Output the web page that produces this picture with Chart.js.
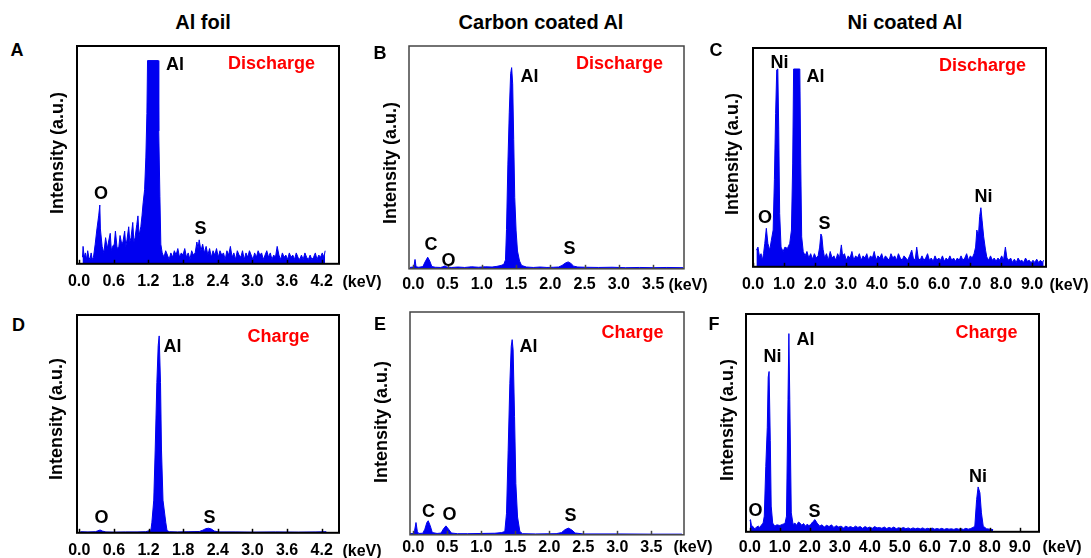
<!DOCTYPE html>
<html>
<head>
<meta charset="utf-8">
<script src="https://cdn.jsdelivr.net/npm/chart.js@4/dist/chart.umd.min.js"></script>
<style>
  html, body { margin: 0; padding: 0; background: #fff; }
  #fig { position: relative; width: 1091px; height: 558px; overflow: hidden; }
  #fig canvas { position: absolute; }
  .t {
    position: absolute;
    font-family: Arial, 'Liberation Sans', Helvetica, sans-serif;
    font-weight: bold;
    line-height: 1;
    white-space: nowrap;
    transform: translate(-50%, -50%);
  }
</style>
</head>
<body>
<div id="fig"></div>
<script>
(function () {
  'use strict';

  // EDS spectra, [energy keV, intensity % of frame height]
  var spectrumA = [
    [0.06, 3], [0.07, 8], [0.09, 3], [0.11, 5], [0.13, 2], [0.15, 6], [0.17, 3], [0.19, 2],
    [0.21, 5], [0.23, 2], [0.25, 3], [0.28, 9], [0.31, 16], [0.34, 22], [0.36, 27], [0.37, 16],
    [0.40, 8], [0.43, 5], [0.46, 12], [0.49, 7], [0.51, 10], [0.54, 14], [0.56, 6], [0.58, 8],
    [0.61, 9], [0.63, 15], [0.66, 7], [0.69, 8], [0.71, 13], [0.74, 9], [0.76, 10], [0.79, 15],
    [0.81, 8], [0.83, 11], [0.86, 17], [0.88, 10], [0.90, 12], [0.93, 19], [0.95, 10], [0.97, 12],
    [1.00, 18], [1.02, 22], [1.04, 13], [1.07, 17], [1.09, 22], [1.11, 28], [1.135, 34], [1.157, 49],
    [1.175, 69], [1.186, 93.3], [1.37, 93.3], [1.38, 61], [1.40, 31], [1.416, 9], [1.44, 5],
    [1.47, 3], [1.50, 6], [1.53, 4], [1.56, 2], [1.59, 5], [1.62, 3], [1.65, 6], [1.68, 4],
    [1.71, 7], [1.74, 3], [1.77, 5], [1.80, 4], [1.83, 7], [1.86, 3], [1.89, 5], [1.92, 2],
    [1.95, 6], [1.98, 4], [2.01, 5], [2.04, 10], [2.06, 7], [2.08, 11], [2.11, 6], [2.14, 9],
    [2.17, 5], [2.20, 8], [2.23, 4], [2.26, 7], [2.29, 3], [2.32, 6], [2.35, 4], [2.38, 7],
    [2.41, 3], [2.44, 6], [2.47, 4], [2.50, 5], [2.53, 2], [2.56, 6], [2.59, 4], [2.62, 8],
    [2.65, 3], [2.68, 5], [2.71, 2], [2.74, 6], [2.77, 4], [2.80, 3], [2.83, 6], [2.86, 2],
    [2.89, 5], [2.92, 3], [2.95, 6], [2.98, 4], [3.01, 2], [3.04, 5], [3.07, 3], [3.10, 6],
    [3.13, 4], [3.16, 5], [3.19, 2], [3.22, 4], [3.25, 6], [3.28, 3], [3.31, 5], [3.34, 2],
    [3.37, 4], [3.40, 3], [3.43, 8], [3.46, 4], [3.49, 2], [3.52, 5], [3.55, 3], [3.58, 4],
    [3.61, 2], [3.64, 5], [3.67, 3], [3.70, 4], [3.73, 2], [3.76, 5], [3.79, 3], [3.82, 2],
    [3.85, 4], [3.88, 2], [3.91, 5], [3.94, 3], [3.97, 2], [4.00, 4], [4.03, 2], [4.06, 3],
    [4.09, 5], [4.12, 2], [4.15, 4], [4.18, 3], [4.21, 5], [4.24, 3], [4.26, 6]
  ];

  var spectrumB = [
    [-0.05, 0.6], [-0.01, 0.8], [0.01, 1.2], [0.025, 4.2], [0.04, 0.9], [0.08, 0.7], [0.14, 1],
    [0.17, 3], [0.21, 5.2], [0.24, 3.5], [0.27, 1], [0.32, 0.7], [0.40, 0.6], [0.43, 0.9],
    [0.46, 1.3], [0.49, 0.8], [0.56, 0.6], [0.65, 0.8], [0.75, 0.6], [0.85, 0.9], [0.95, 0.7],
    [1.05, 0.9], [1.15, 0.8], [1.22, 1.1], [1.28, 1.5], [1.32, 2.0], [1.345, 4], [1.36, 17.6],
    [1.38, 47], [1.40, 70], [1.42, 87.6], [1.435, 90.3], [1.45, 83], [1.465, 58], [1.48, 32],
    [1.50, 17], [1.52, 8], [1.55, 3.5], [1.58, 1.5], [1.65, 0.8], [1.75, 0.6], [1.85, 0.8],
    [1.95, 0.6], [2.05, 0.7], [2.12, 0.8], [2.17, 1.5], [2.22, 2.6], [2.26, 3.1], [2.30, 2.4],
    [2.34, 1.2], [2.40, 0.8], [2.50, 0.7], [2.70, 0.6], [2.90, 0.7], [3.10, 0.5], [3.30, 0.6],
    [3.50, 0.5], [3.70, 0.6], [3.94, 0.5]
  ];

  var spectrumC = [
    [0.11, 7.6], [0.16, 9], [0.21, 4.6], [0.26, 6], [0.30, 3], [0.34, 6], [0.38, 10.7], [0.43, 17.6],
    [0.48, 10.7], [0.54, 7.6], [0.59, 12], [0.65, 16.8], [0.69, 40], [0.73, 70], [0.765, 90],
    [0.80, 90.4], [0.83, 62.6], [0.86, 24.4], [0.905, 9], [0.97, 7], [1.03, 9], [1.11, 8.4],
    [1.185, 10.7], [1.24, 16.8], [1.28, 47], [1.31, 90.4], [1.51, 90.4], [1.54, 47], [1.57, 13.7],
    [1.62, 7], [1.68, 5], [1.74, 7], [1.80, 4], [1.86, 6], [1.92, 3.5], [1.98, 6], [2.04, 4],
    [2.10, 5], [2.15, 9], [2.19, 15], [2.22, 14], [2.26, 8], [2.31, 4], [2.37, 6], [2.43, 3],
    [2.49, 7], [2.55, 4], [2.61, 5], [2.67, 3], [2.73, 6], [2.79, 4], [2.85, 10], [2.89, 5],
    [2.95, 6], [3.01, 3], [3.07, 5], [3.13, 4], [3.19, 7], [3.25, 3], [3.31, 5], [3.37, 4],
    [3.43, 6], [3.49, 3], [3.55, 5], [3.61, 4], [3.67, 6], [3.73, 3], [3.79, 5], [3.85, 4],
    [3.91, 7], [3.97, 3], [4.03, 5], [4.09, 4], [4.15, 6], [4.21, 3], [4.27, 5], [4.33, 4],
    [4.39, 3], [4.45, 6], [4.51, 4], [4.57, 5], [4.63, 3], [4.69, 6], [4.75, 4], [4.81, 3],
    [4.87, 5], [4.93, 4], [4.99, 3], [5.05, 5], [5.12, 7.6], [5.17, 4], [5.23, 3], [5.28, 9],
    [5.33, 4], [5.39, 3], [5.45, 5], [5.51, 3], [5.57, 4], [5.63, 6], [5.69, 3], [5.75, 4],
    [5.81, 2.5], [5.87, 5], [5.93, 3], [5.99, 4], [6.05, 3], [6.11, 5], [6.17, 2.5], [6.23, 4],
    [6.29, 3], [6.35, 5], [6.41, 3], [6.47, 4], [6.53, 2.5], [6.59, 4], [6.65, 3], [6.71, 5],
    [6.77, 3], [6.83, 4], [6.89, 6], [6.95, 3], [7.01, 5], [7.07, 4], [7.13, 6], [7.18, 9],
    [7.22, 16.8], [7.27, 14], [7.31, 23], [7.35, 27], [7.39, 21], [7.44, 13.7], [7.50, 7.6],
    [7.54, 4.5], [7.60, 3], [7.66, 5], [7.72, 3], [7.78, 4], [7.84, 2.5], [7.90, 4], [7.96, 3],
    [8.02, 5], [8.08, 3], [8.14, 9], [8.19, 4], [8.25, 3], [8.31, 4], [8.37, 2], [8.43, 3.5],
    [8.49, 2], [8.55, 4], [8.61, 2.5], [8.67, 3], [8.73, 2], [8.79, 4], [8.85, 2.5], [8.91, 3],
    [8.97, 1.8], [9.03, 3], [9.09, 2], [9.15, 3.5], [9.21, 2], [9.27, 3], [9.33, 2], [9.375, 3]
  ];

  var spectrumD = [
    [0.02, 0.5], [0.15, 0.4], [0.28, 0.5], [0.32, 0.9], [0.36, 1.3], [0.40, 0.8], [0.46, 0.4],
    [0.60, 0.3], [0.80, 0.4], [1.00, 0.4], [1.15, 0.5], [1.24, 1.2], [1.257, 4.6], [1.29, 15],
    [1.315, 38], [1.344, 69], [1.367, 86], [1.384, 90.4], [1.407, 69], [1.424, 38], [1.45, 15],
    [1.499, 4.6], [1.52, 1], [1.56, 0.5], [1.70, 0.4], [1.90, 0.5], [2.08, 0.6], [2.14, 1.2],
    [2.19, 1.9], [2.24, 2.1], [2.29, 1.7], [2.34, 0.8], [2.42, 0.4], [2.70, 0.4], [3.00, 0.3],
    [3.40, 0.4], [3.80, 0.3], [4.10, 0.4], [4.28, 0.5]
  ];

  var spectrumE = [
    [-0.05, 0.5], [0.00, 0.6], [0.02, 2], [0.04, 5.5], [0.06, 1.5], [0.08, 0.6], [0.14, 0.7],
    [0.17, 2.5], [0.20, 5.5], [0.22, 6.3], [0.25, 4], [0.28, 1], [0.35, 0.6], [0.41, 0.8],
    [0.44, 2.5], [0.48, 4], [0.52, 2.5], [0.56, 0.8], [0.65, 0.5], [0.80, 0.5], [1.00, 0.6],
    [1.20, 0.7], [1.30, 1], [1.346, 1.5], [1.371, 9.7], [1.395, 38], [1.42, 68], [1.44, 84.6],
    [1.454, 87.6], [1.468, 83], [1.489, 53], [1.508, 23], [1.533, 8], [1.567, 1.5], [1.606, 0.5],
    [1.80, 0.4], [2.10, 0.5], [2.18, 1], [2.23, 2.3], [2.28, 3], [2.33, 2.2], [2.38, 0.8],
    [2.50, 0.4], [3.00, 0.4], [3.50, 0.3], [3.95, 0.3]
  ];

  var spectrumF = [
    [0.00, 4.9], [0.02, 5.6], [0.05, 3], [0.09, 2.6], [0.13, 1.8], [0.17, 1.4], [0.22, 2.2],
    [0.28, 2.6], [0.33, 2], [0.39, 3.2], [0.44, 4], [0.48, 7.2], [0.53, 30], [0.58, 48],
    [0.61, 71], [0.64, 73.6], [0.68, 42], [0.71, 11.8], [0.76, 4], [0.83, 2.6], [0.90, 3.2],
    [1.00, 2.9], [1.08, 3.4], [1.17, 3.8], [1.22, 7.2], [1.27, 60.6], [1.30, 91], [1.33, 60.6],
    [1.38, 8.7], [1.44, 3.4], [1.50, 4], [1.56, 3], [1.62, 4.5], [1.67, 4], [1.73, 3], [1.79, 3.8],
    [1.85, 2.6], [1.91, 3.5], [1.97, 2.8], [2.03, 3.4], [2.09, 4.5], [2.17, 5.6], [2.24, 4],
    [2.33, 2.6], [2.40, 3.2], [2.48, 2.2], [2.56, 3], [2.64, 2.4], [2.72, 3.2], [2.80, 2],
    [2.88, 2.8], [2.96, 2.2], [3.04, 2.6], [3.12, 1.8], [3.20, 2.6], [3.28, 2], [3.36, 2.4],
    [3.44, 1.8], [3.52, 2.6], [3.60, 2], [3.68, 2.4], [3.76, 1.6], [3.84, 2.4], [3.92, 1.8],
    [4.00, 2.2], [4.08, 1.6], [4.16, 2.4], [4.24, 1.8], [4.32, 2], [4.40, 1.6], [4.48, 2.2],
    [4.56, 1.5], [4.64, 2], [4.72, 1.6], [4.80, 2.2], [4.88, 1.4], [4.96, 1.9], [5.04, 1.5],
    [5.12, 2], [5.20, 1.4], [5.28, 1.8], [5.36, 1.3], [5.44, 1.8], [5.52, 1.4], [5.60, 1.7],
    [5.68, 1.3], [5.76, 1.8], [5.84, 1.2], [5.92, 1.6], [6.00, 1.3], [6.08, 1.7], [6.16, 1.2],
    [6.24, 1.5], [6.32, 1.2], [6.40, 1.6], [6.48, 1.1], [6.56, 1.5], [6.64, 1.2], [6.72, 1.4],
    [6.80, 1.1], [6.88, 1.5], [6.96, 1.2], [7.04, 1.4], [7.12, 1.1], [7.20, 1.6], [7.28, 1.2],
    [7.36, 1.5], [7.44, 2], [7.50, 2.6], [7.56, 14.8], [7.61, 20.6], [7.67, 17.9], [7.72, 8.7],
    [7.78, 2.6], [7.89, 1.4], [8.00, 1.2], [8.11, 1]
  ];

  // tick values per column
  var ticksAlFoil = [0, 0.6, 1.2, 1.8, 2.4, 3.0, 3.6, 4.2];
  var ticksCarbon = [0, 0.5, 1.0, 1.5, 2.0, 2.5, 3.0, 3.5];
  var ticksNickel = [0, 1, 2, 3, 4, 5, 6, 7, 8, 9];

  var columnTitles = ['Al foil', 'Carbon coated Al', 'Ni coated Al'];
  var panelLetters = ['A', 'B', 'C', 'D', 'E', 'F'];

  var FONT = "Arial, 'Liberation Sans', Helvetica, sans-serif";
  var BLUE = '#0000f0';
  var PAD_L = 25, PAD_R = 25, PAD_T = 10, PAD_B = 5;

  Chart.defaults.font.family = FONT;

  var fig = document.getElementById('fig');

  var framePlugin = {
    id: 'frame',
    afterDraw: function (chart, args, opts) {
      var a = chart.chartArea;
      var ctx = chart.ctx;
      var xs = chart.scales.x;
      ctx.save();
      ctx.strokeStyle = opts.color;
      ctx.lineWidth = opts.width;
      ctx.strokeRect(a.left, a.top, a.right - a.left, a.bottom - a.top);
      ctx.lineWidth = 1.5;
      xs.ticks.forEach(function (t) {
        var px = Math.round(xs.getPixelForValue(t.value)) + 0.5;
        ctx.beginPath();
        ctx.moveTo(px, a.bottom);
        ctx.lineTo(px, a.bottom - 4);
        ctx.stroke();
      });
      ctx.restore();
    }
  };

  // box = [left, top, right, bottom] of the plot frame in page pixels
  function buildPanel(spectrum, ticks, xmin, xmax, box, labelPad, frameColor, frameWidth) {
    var canvas = document.createElement('canvas');
    var axisH = 16 * 1.2 + 2 * labelPad;
    var w = (box[2] - box[0]) + PAD_L + PAD_R;
    var h = PAD_T + (box[3] - box[1]) + axisH + PAD_B;
    canvas.width = w;
    canvas.height = Math.round(h);
    canvas.style.left = (box[0] - PAD_L) + 'px';
    canvas.style.top = (box[1] - PAD_T) + 'px';
    canvas.style.width = w + 'px';
    canvas.style.height = Math.round(h) + 'px';
    fig.appendChild(canvas);

    return new Chart(canvas.getContext('2d'), {
      type: 'line',
      data: {
        datasets: [
          {
            data: spectrum.map(function (p) { return { x: p[0], y: p[1] }; }),
            borderColor: BLUE,
            backgroundColor: BLUE,
            borderWidth: 1,
            pointRadius: 0,
            tension: 0,
            fill: 'origin',
          },
        ],
      },
      options: {
        responsive: false,
        animation: false,
        events: [],
        layout: { padding: { left: PAD_L, right: PAD_R, top: PAD_T, bottom: PAD_B } },
        plugins: {
          legend: { display: false },
          tooltip: { enabled: false },
          frame: { color: frameColor, width: frameWidth },
        },
        scales: {
          x: {
            type: 'linear',
            min: xmin,
            max: xmax,
            grid: { display: false, drawTicks: false },
            border: { display: false },
            afterBuildTicks: function (scale) {
              scale.ticks = ticks.map(function (v) { return { value: v }; });
            },
            ticks: {
              padding: labelPad,
              color: '#000',
              autoSkip: false,
              minRotation: 0,
              maxRotation: 0,
              font: { size: 16, weight: 'bold' },
              callback: function (v) { return Number(v).toFixed(1); },
            },
          },
          y: { display: false, min: 0, max: 100 },
        },
      },
      plugins: [framePlugin],
    });
  }

  buildPanel(spectrumA, ticksAlFoil, -0.035, 4.50, [77, 46, 339, 264], 8, '#000', 2);
  buildPanel(spectrumB, ticksCarbon, -0.063, 3.95, [409, 46, 684, 269], 6.5, '#444', 1.5);
  buildPanel(spectrumC, ticksNickel, 0, 9.45, [753, 48, 1046, 267], 8.5, '#000', 2);
  buildPanel(spectrumD, ticksAlFoil, -0.04, 4.50, [77, 315, 339, 533], 8, '#000', 2);
  buildPanel(spectrumE, ticksCarbon, -0.048, 3.98, [410, 312, 684, 535], 3.5, '#444', 1.5);
  buildPanel(spectrumF, ticksNickel, -0.13, 9.64, [746, 314, 1039, 532], 6.5, '#000', 2);

  function text(str, cx, cy, size, color, rotate) {
    var d = document.createElement('div');
    d.className = 't';
    d.textContent = str;
    d.style.left = cx + 'px';
    d.style.top = cy + 'px';
    d.style.fontSize = size + 'px';
    d.style.color = color || '#000';
    if (rotate) {
      d.style.transform = 'translate(-50%, -50%) rotate(-90deg)';
    }
    fig.appendChild(d);
  }

  // column titles and panel letters
  text(columnTitles[0], 203, 22, 20);
  text(columnTitles[1], 541, 22, 20);
  text(columnTitles[2], 905, 22, 20);
  [[17, 49.5], [380, 53], [716, 50], [18.5, 325], [380, 324], [714, 324]].forEach(function (p, i) {
    text(panelLetters[i], p[0], p[1], 18);
  });

  // y axis titles
  [[57, 153], [390, 163], [732, 154], [56, 419], [381, 422], [727, 420]].forEach(function (p) {
    text('Intensity (a.u.)', p[0], p[1], 18, '#000', true);
  });

  // x unit labels
  [[362, 282], [688, 285], [1069, 285], [362, 551], [693, 547], [1062, 547]].forEach(function (p) {
    text('(keV)', p[0], p[1], 16);
  });

  // peak labels
  var peakLabels = [
    ['Al', 175, 64], ['O', 101, 193], ['S', 200.5, 228],
    ['Al', 529.5, 76], ['C', 431, 244], ['O', 448.5, 260], ['S', 569.5, 248],
    ['Ni', 779.5, 62], ['Al', 815.5, 76], ['O', 765, 217], ['S', 824.5, 223], ['Ni', 983.5, 196],
    ['Al', 172.5, 346], ['O', 101.5, 517], ['S', 209.5, 517],
    ['Al', 528.5, 346], ['C', 428.5, 511], ['O', 449.5, 514], ['S', 570.5, 515],
    ['Ni', 772.5, 356], ['Al', 805.5, 339], ['O', 755.5, 510], ['S', 814.5, 511], ['Ni', 978, 476]
  ];
  peakLabels.forEach(function (p) { text(p[0], p[1], p[2], 18); });

  // state labels
  var stateLabels = [
    ['Discharge', 271.5, 63], ['Discharge', 619.5, 63], ['Discharge', 982.5, 65],
    ['Charge', 278.5, 336], ['Charge', 632.5, 332], ['Charge', 986.5, 332]
  ];
  stateLabels.forEach(function (p) { text(p[0], p[1], p[2], 18, '#ff0000'); });
})();
</script>
</body>
</html>
